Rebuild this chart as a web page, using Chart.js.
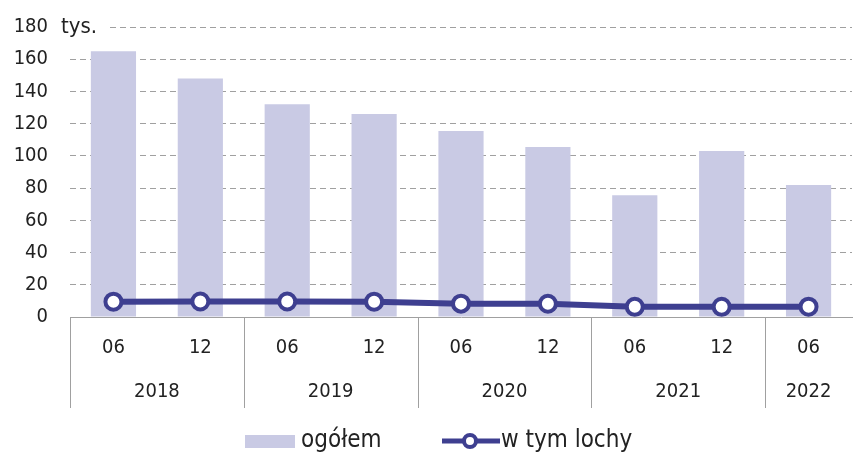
<!DOCTYPE html>
<html>
<head>
<meta charset="utf-8">
<script src="https://cdn.jsdelivr.net/npm/chart.js@4"></script>
<style>
  html, body { margin: 0; padding: 0; background: #fff; overflow: hidden; }
  #wrap { position: relative; width: 864px; height: 452px; }
</style>
</head>
<body>
<div id="wrap"><canvas id="wykres"></canvas></div>
<script>
// dane
var miesiace = ['06', '12', '06', '12', '06', '12', '06', '12', '06'];
var lata = ['2018', '2019', '2020', '2021', '2022'];
var lataRozpietosc = [2, 2, 2, 2, 1]; // ile półroczy w danym roku
var ogolem = [165, 148, 132, 126, 115.5, 105.5, 75.5, 103, 82];
var lochy = [9.5, 9.6, 9.6, 9.5, 8.3, 8.2, 6.3, 6.3, 6.4];
var osY = [0, 20, 40, 60, 80, 100, 120, 140, 160, 180];

var czcionka = "'DejaVu Sans Condensed', 'DejaVu Sans', sans-serif";
var szary = '#a0a0a0';
var kolorSlupka = '#c9cae4';
var kolorLinii = '#3e3f90';

Chart.defaults.font.family = czcionka;
Chart.defaults.font.size = 20;
Chart.defaults.color = '#222';

// lata pod osią, separatory, "tys." i legenda
var dodatki = {
  id: 'dodatki',
  afterDraw: function(chart) {
    var ctx = chart.ctx;
    var x = chart.scales.x;
    var y = chart.scales.y;
    var a = chart.chartArea;
    var szer = x.getPixelForValue(1) - x.getPixelForValue(0);
    var dol = a.bottom + 91;
    ctx.save();
    ctx.strokeStyle = szary;
    ctx.lineWidth = 1;
    ctx.fillStyle = '#222';
    ctx.font = '20px ' + czcionka;
    ctx.textAlign = 'center';
    ctx.textBaseline = 'middle';
    var idx = 0;
    for (var i = 0; i < lata.length; i++) {
      var x0 = x.getPixelForValue(idx) - szer / 2;
      var x1 = x.getPixelForValue(idx + lataRozpietosc[i] - 1) + szer / 2;
      ctx.beginPath();
      ctx.moveTo(Math.round(x0) + 0.5, a.bottom);
      ctx.lineTo(Math.round(x0) + 0.5, dol);
      ctx.stroke();
      ctx.fillText(lata[i], (x0 + x1) / 2, a.bottom + 75);
      idx += lataRozpietosc[i];
    }
    // jednostka
    var yt = y.getPixelForValue(180);
    ctx.fillStyle = '#fff';
    ctx.fillRect(56, yt - 12, 50, 24);
    ctx.fillStyle = '#222';
    ctx.textAlign = 'left';
    ctx.font = '22px ' + czcionka;
    ctx.fillText('tys.', 61, yt);
    // legenda
    var ly = 441;
    ctx.font = '24px ' + czcionka;
    ctx.fillStyle = kolorSlupka;
    ctx.fillRect(245, ly - 6, 50, 13);
    ctx.fillStyle = '#222';
    ctx.fillText(chart.data.datasets[0].label, 301, ly);
    ctx.strokeStyle = kolorLinii;
    ctx.lineWidth = 5;
    ctx.beginPath();
    ctx.moveTo(442, ly);
    ctx.lineTo(500, ly);
    ctx.stroke();
    ctx.fillStyle = '#fff';
    ctx.lineWidth = 4;
    ctx.beginPath();
    ctx.arc(470, ly, 6, 0, Math.PI * 2);
    ctx.fill();
    ctx.stroke();
    ctx.fillStyle = '#222';
    ctx.fillText(chart.data.datasets[1].label, 501, ly);
    ctx.restore();
  }
};

function wykres() {
  var ctx = document.getElementById('wykres');
  new Chart(ctx, {
    type: 'bar',
    data: {
      labels: miesiace,
      datasets: [{
        label: 'ogółem',
        data: ogolem,
        backgroundColor: kolorSlupka,
        barPercentage: 0.52,
        categoryPercentage: 1,
        order: 1
      }, {
        type: 'line',
        label: 'w tym lochy',
        data: lochy,
        borderColor: kolorLinii,
        borderWidth: 6,
        pointRadius: 8,
        pointBorderWidth: 4,
        pointBackgroundColor: '#fff',
        pointBorderColor: kolorLinii,
        tension: 0,
        order: 0
      }]
    },
    options: {
      responsive: true,
      maintainAspectRatio: false, // wymiary z kontenera
      animation: false,
      layout: { padding: { top: 27, bottom: 44, left: 0, right: 0 } },
      plugins: {
        legend: { display: false },
        tooltip: { enabled: false }
      },
      scales: {
        x: {
          grid: { display: false, drawTicks: false },
          border: { display: true, color: szary, width: 1 },
          ticks: { padding: 19, color: '#222', maxRotation: 0, autoSkip: false },
          afterFit: function(s) { s.height = 91; }
        },
        y: {
          min: 0,
          max: 180,
          afterBuildTicks: function(s) {
            s.ticks = osY.map(function(v) { return { value: v }; });
          },
          grid: {
            drawTicks: false,
            color: function(c) { return c.tick.value === 0 ? 'rgba(0,0,0,0)' : szary; }
          },
          border: { display: false, dash: [6, 4] },
          ticks: { padding: 22, color: '#222' },
          afterFit: function(s) {
            s.width = 70;
            s.paddingTop = 0;
            s.paddingBottom = 0;
          }
        }
      }
    },
    plugins: [dodatki]
  });
}

window.onload = function() {
  wykres();
};
</script>
</body>
</html>
